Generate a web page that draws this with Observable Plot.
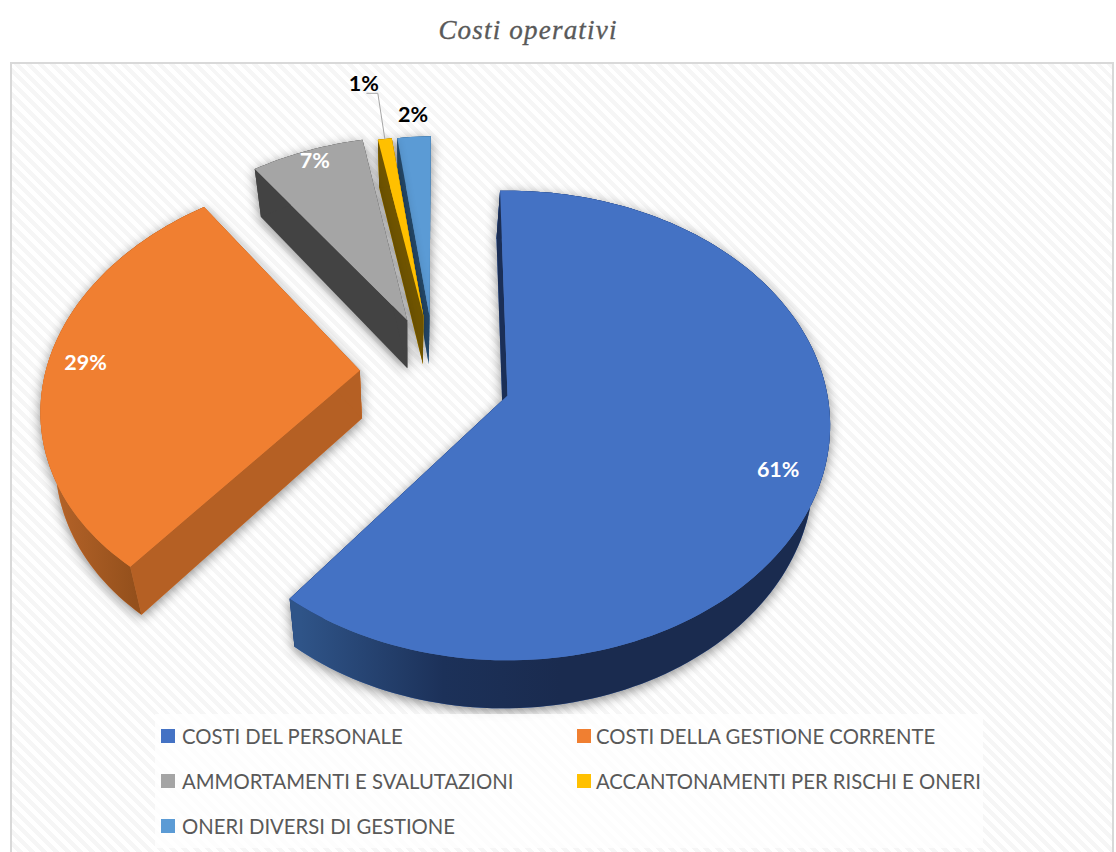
<!DOCTYPE html>
<html lang="it">
<head>
<meta charset="utf-8">
<title>Costi operativi</title>
<script src="https://cdn.jsdelivr.net/npm/d3@7"></script>
<script src="https://cdn.jsdelivr.net/npm/@observablehq/plot@0.6"></script>
<style>
html,body{margin:0;padding:0;background:#fff;width:1116px;height:852px;overflow:hidden}
#title{position:absolute;left:0;top:0;width:1056px;height:62px;text-align:center;margin:0;
  font:italic 400 27px/60px "Liberation Serif",serif;letter-spacing:1.2px;color:#595959;-webkit-text-stroke:.35px #595959}
#card{position:absolute;left:10px;top:62px;width:1104px;height:790px;box-sizing:border-box;
  border:2px solid #d9d9d9;border-bottom:none;
  background:repeating-linear-gradient(45deg,#fff 0,#fff 4.2px,#f6f6f6 4.2px,#f6f6f6 8.4px)}
#chart{position:absolute;left:0;top:62px}
#legend{position:absolute;left:155px;top:714px;width:828px;height:134px;background:rgba(255,255,255,.78);
  font:20.3px/1 Lato,sans-serif;color:#595959}
.item{position:absolute;white-space:nowrap;display:flex;align-items:center;height:24px}
.item i{display:inline-block;width:14px;height:14px;margin-right:7px}
</style>
</head>
<body>
<h1 id="title">Costi operativi</h1>
<div id="card"></div>
<div id="chart"></div>
<div id="legend"></div>
<script>
const categories = ["COSTI DEL PERSONALE","COSTI DELLA GESTIONE CORRENTE","AMMORTAMENTI E SVALUTAZIONI","ACCANTONAMENTI PER RISCHI E ONERI","ONERI DIVERSI DI GESTIONE"];
const values = [60.9, 29.4, 6.8, 0.85, 2.05];
const topColors = ["#4472C4","#F07F31","#A5A5A5","#FFC000","#5B9BD5"];
const wallColors = ["#1B2F57","#B56024","#434343","#6F5400","#264C6E"];
const arcFills = ["url(#arcBlue)","url(#arcOrange)","#434343","#6F5400","#264C6E"];
const labelColors = ["#fff","#fff","#fff","#000","#000"];

// Exploded-pie layout: where each slice's apex sits on the pie plane, its relative radius, and label placement
const explodeX = [0, -0.468, -0.327, -0.275, -0.255];
const explodeY = [0, 0.11, 0.34, 0.36, 0.36];
const sliceRadius = [1, 0.995, 0.97, 0.95, 0.95];
const labelRadius = [0.87, 0.875, 0.90, 1.295, 1.078];
const labelTurn = [2.9, 1.4, 0.3, -1.5, 0.2];

// Perspective of the tilted pie
const cx = 507, cy = 395, fx = 320, fy = 231, persp = 0.1277;
const startAngle = -1.5, depth = 48, wallScale = 0.96, vanishX = 410;
const project = (X, Y) => {
  const d = 1 + persp * Y;
  return [cx + fx * X / d, cy - fy * Y / d];
};
const lower = ([x, y]) => [vanishX + (x - vanishX) * wallScale, y + depth];
const rad = a => a * Math.PI / 180;

const total = d3.sum(values);
let running = startAngle;
const slices = values.map((v, i) => {
  const a0 = running, a1 = running + v / total * 360;
  running = a1;
  const at = (a, r = sliceRadius[i]) =>
    project(explodeX[i] + r * Math.sin(rad(a)), explodeY[i] + r * Math.cos(rad(a)));
  const n = Math.max(2, Math.ceil((a1 - a0) / 1.5));
  const arc = d3.range(n + 1).map(k => at(a0 + (a1 - a0) * k / n));
  const apex = project(explodeX[i], explodeY[i]);
  return {i, a0, a1, at, arc, apex, mid: (a0 + a1) / 2};
});
const pts = (poly, part, category) => poly.map(([x, y]) => ({x, y, part, category}));

const defs = () => {
  const d = d3.create("svg:defs");
  const grad = (id, x1, x2, stops) => {
    const g = d.append("linearGradient").attr("id", id).attr("gradientUnits", "userSpaceOnUse")
      .attr("x1", x1).attr("x2", x2).attr("y1", 0).attr("y2", 0);
    stops.forEach(([o, c]) => g.append("stop").attr("offset", o).attr("stop-color", c));
  };
  grad("arcBlue", 300, 560, [[0, "#2F5488"], [0.55, "#1C3159"], [1, "#1A2B4F"]]);
  grad("arcOrange", 45, 135, [[0, "#B8652A"], [1, "#94501C"]]);
  return d.node();
};

const sliceMarks = s => {
  const {i, arc, apex} = s;
  const cat = categories[i];
  const top = [apex, ...arc];
  const wallStart = [apex, arc[0], lower(arc[0]), lower(apex)];
  const wallEnd = [apex, arc[arc.length - 1], lower(arc[arc.length - 1]), lower(apex)];
  const wallArc = [...arc, ...arc.map(lower).reverse()];
  const silhouette = [
    ...pts(top, "t", cat), ...pts(wallStart, "a", cat), ...pts(wallEnd, "b", cat), ...pts(wallArc, "c", cat)
  ];
  const line = (data, fill, extra = {}) =>
    Plot.line(data, {x: "x", y: "y", z: "part", fill, stroke: "none", curve: "linear", ...extra});
  return [
    line(silhouette, "category", {imageFilter: "drop-shadow(0px 3px 6px rgba(0,0,0,.45))"}),
    line([...pts(wallStart, "start", cat), ...pts(wallEnd, "end", cat)], wallColors[i]),
    line(pts(wallArc, "arc", cat), arcFills[i]),
    line(pts(top, "top", cat), "category")
  ];
};

const labels = slices.map(s => {
  const [x, y] = s.at(s.mid + labelTurn[s.i], labelRadius[s.i]);
  return {x, y, text: Math.round(values[s.i]) + "%", color: labelColors[s.i]};
});
const outerMid = slices[3].at(slices[3].mid);
const leader = [
  {x: labels[3].x + 3, y: labels[3].y + 9},
  {x: labels[3].x + 14, y: labels[3].y + 9},
  {x: outerMid[0], y: outerMid[1]}
];

const order = [4, 3, 2, 1, 0];
const plot = Plot.plot({
  width: 1116, height: 652, margin: 0,
  style: {background: "transparent", overflow: "visible"},
  x: {domain: [0, 1116], range: [0, 1116], axis: null},
  y: {domain: [62, 714], range: [0, 652], axis: null},
  color: {domain: categories, range: topColors},
  marks: [
    defs,
    ...order.flatMap(i => sliceMarks(slices[i])),
    Plot.line(leader, {x: "x", y: "y", stroke: "#a6a6a6", strokeWidth: 1, curve: "linear"}),
    Plot.text(labels, {x: "x", y: "y", text: "text", fill: "color",
      fontFamily: "Lato, sans-serif", fontWeight: 700, fontSize: 21.5})
  ]
});
document.getElementById("chart").append(plot);

// Legend, two columns of swatches
const legend = document.getElementById("legend");
const colX = [6, 422], rowY = [10, 55, 100];
categories.forEach((c, i) => {
  const el = document.createElement("div");
  el.className = "item";
  el.style.left = colX[i % 2] + "px";
  el.style.top = rowY[Math.floor(i / 2)] + "px";
  const sw = document.createElement("i");
  sw.style.background = topColors[i];
  if (i % 2) sw.style.marginRight = "5px";
  el.append(sw, document.createTextNode(c));
  legend.append(el);
});
</script>
</body>
</html>
